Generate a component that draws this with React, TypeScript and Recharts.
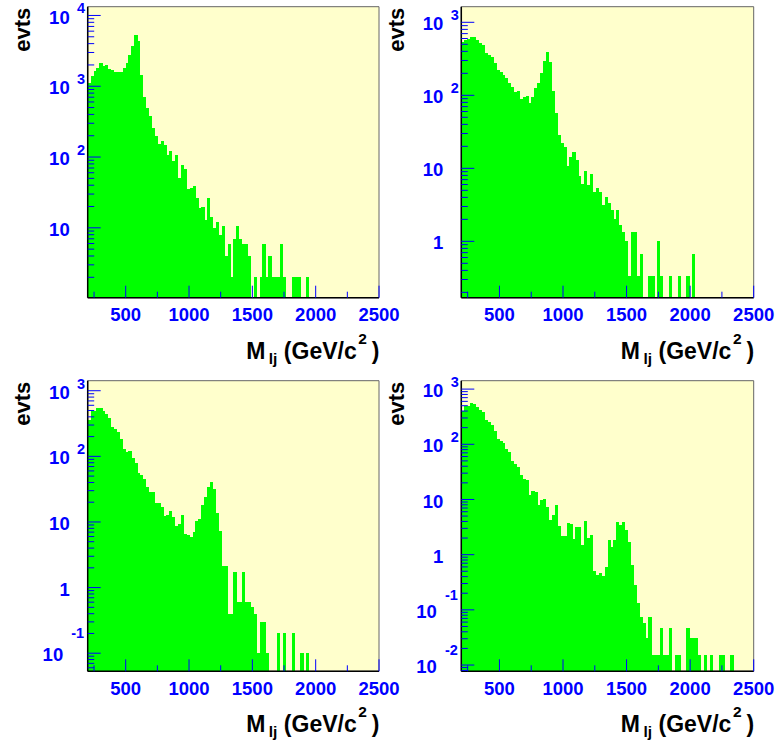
import React from "react";
import { BarChart, Bar, XAxis, YAxis, CartesianGrid, ReferenceArea } from "recharts";

// 100 bins of 23 GeV/c^2 starting at 200
const BIN_START = 200;
const BIN_WIDTH = 23;

const countsTopLeft = [
	1110, 1375, 1620, 1805, 2125, 1945, 1990, 1750, 1710, 1600,
	1565, 1580, 1785, 2125, 2720, 3725, 5270, 4340, 1450, 695,
	492, 384, 257, 200, 153, 166, 146, 108, 120, 87,
	108, 50, 76, 68, 35, 37, 39, 26, 19, 20,
	13, 26, 14, 10, 12, 8, 10.5, 4, 6, 2,
	7, 10.5, 7, 6, 6, 4, 0, 2, 0, 2,
	6, 2, 4, 2, 2, 2, 6, 2, 0, 0,
	2, 2, 2, 0, 0, 2,
];

const countsTopRight = [
	542, 572, 591, 630, 620, 572, 526, 489, 376, 356,
	331, 280, 222, 207, 190, 171, 149, 129, 112, 115,
	89, 96, 98, 78, 94, 125, 149, 200, 295, 388,
	289, 115, 57, 28.6, 22.4, 19.8, 10.9, 14.4, 16.6, 13,
	7.8, 6.1, 9.2, 5.9, 8.3, 4.8, 5.4, 4.7, 3.1, 4.1,
	3.33, 2.67, 2, 2.67, 1.67, 1.33, 1, 0.33, 1.33, 1.33,
	0.33, 0.67, 0, 0, 0.33, 0.33, 0, 1, 0.33, 0,
	0, 0.33, 0, 0, 0.33, 0, 0, 0.33, 0, 0.67,
];

const countsBottomLeft = [
	362, 486, 495, 546, 546, 486, 443, 384, 277, 261,
	233, 184, 131, 117, 122, 95, 79, 56, 51.5, 45.7,
	34, 28.7, 28.7, 19.5, 19.5, 16.9, 12.5, 12.9, 14.9, 11.8,
	8.8, 9.4, 12.7, 6.6, 6.4, 5.9, 7, 10.3, 11.2, 18,
	24, 33.8, 40.7, 31.8, 13.7, 7.2, 2.1, 2.1, 0.4, 0.4,
	1.7, 0.6, 0.6, 1.7, 0.6, 0.6, 0.5, 0.4, 0.1, 0.3,
	0.3, 0.1, 0, 0, 0, 0.2, 0, 0.2, 0, 0,
	0.2, 0, 0, 0.1, 0, 0.1,
];

const countsBottomRight = [
	396, 500, 500, 560, 537, 468, 424, 380, 279, 254,
	226, 176, 125, 113, 106, 83, 72.6, 49, 44, 38.3,
	28, 23.8, 22.8, 12.2, 14, 13.5, 7.85, 9.9, 10.3, 7.4,
	4.3, 5.2, 8.05, 3.27, 2.18, 2.18, 3.7, 3.6, 1.95, 3.2,
	3.15, 1.48, 4, 2, 2.24, 0.5, 0.43, 0.47, 0.41, 0.59,
	1.82, 1.36, 1.82, 3.86, 3.5, 3.9, 2.84, 1.7, 0.64, 0.28,
	0.133, 0.073, 0.058, 0.031, 0.073, 0.0154, 0.0154, 0.0154, 0.046, 0.0154,
	0.0154, 0.046, 0, 0.0154, 0.0154, 0, 0, 0.046, 0.031, 0.031,
	0.031, 0.0154, 0, 0.0154, 0, 0.0154, 0, 0, 0.0154, 0.0154,
	0, 0, 0.0154,
];

const xDomain: [number, number] = [200, 2500];
const xTicks = [250, 500, 750, 1000, 1250, 1500, 1750, 2000, 2250, 2500];
const xLabeled = [500, 1000, 1500, 2000, 2500];

const decadesTopLeft = [1, 10, 100, 1000, 10000];
const decadesTopRight = [0.1, 1, 10, 100, 1000];
const decadesBottomLeft = [0.01, 0.1, 1, 10, 100, 1000];
const decadesBottomRight = [0.001, 0.01, 0.1, 1, 10, 100, 1000];

const BLUE = "#0000ff";
const FONT = "'Liberation Sans', Arial, Helvetica, sans-serif";

function buildData(counts: number[]) {
	return counts
		.map((n, i) => ({ m: BIN_START + BIN_WIDTH * (i + 0.5), n }))
		.filter(d => d.n > 0);
}

function logTicks(decades: number[], domain: [number, number]) {
	const out: number[] = [];
	decades.forEach(d => {
		for (let k = 1; k <= 9; k++) {
			const v = k * d;
			if (v >= domain[0] && v <= domain[1]) out.push(v);
		}
	});
	return out;
}

function makeYTick(negRaise: number) {
	return (props: any) => {
		const { x, y, payload } = props;
		const v = payload.value;
		const e = Math.round(Math.log10(v));
		const decade = Math.abs(v / Math.pow(10, e) - 1) < 1e-6;
		const len = decade ? 13 : 6.5;
		let label = null;
		if (decade) {
			const base = { fill: BLUE, fontFamily: FONT, fontWeight: 700, textAnchor: "end" as const };
			if (e === 0 || e === 1) {
				label = <text x={x - 18} y={y + 8.1} fontSize={18.5} {...base}>{e === 0 ? "1" : "10"}</text>;
			} else if (e > 1) {
				label = (
					<g>
						<text x={x - 18} y={y + 8.1} fontSize={18.5} {...base}>10</text>
						<text x={x - 2.5} y={y - 2.2} fontSize={14.5} {...base}>{e}</text>
					</g>
				);
			} else {
				label = (
					<g>
						<text x={x - 24.5} y={y + 8.1} fontSize={18.5} {...base}>10</text>
						<text x={x - 3.5} y={y - negRaise + 5.2} fontSize={14.5} {...base}>{e}</text>
					</g>
				);
			}
		}
		return (
			<g>
				<line x1={x} x2={x + len} y1={y} y2={y} stroke={BLUE} strokeWidth={1} />
				{label}
			</g>
		);
	};
}

const renderXTick = (props: any) => {
	const { x, y, payload } = props;
	const major = xLabeled.includes(payload.value);
	return (
		<g>
			<line x1={x} x2={x} y1={y} y2={y - (major ? 12 : 6)} stroke={BLUE} strokeWidth={1} />
			{major && (
				<text x={x} y={y + 23.6} textAnchor="middle" fill={BLUE} fontSize={18.5} fontWeight={700} fontFamily={FONT}>
					{payload.value}
				</text>
			)}
		</g>
	);
};

const renderXTitle = (p: any) => {
	const vb = p.viewBox;
	const right = vb.x + vb.width + 0.5;
	const base = vb.y + 61;
	return (
		<text x={right} y={base} textAnchor="end" fontSize={23} fontWeight={700} fontFamily={FONT} fill="#000">
			<tspan>M</tspan>
			<tspan dx={3.5} dy={5} fontSize={15.5}>lj</tspan>
			<tspan dy={-5} fontSize={23}>{" (GeV/c"}</tspan>
			<tspan dx={1.5} dy={-15} fontSize={15.5}>2</tspan>
			<tspan dx={5} dy={15} fontSize={23}>)</tspan>
		</text>
	);
};

const renderYTitle = (p: any) => {
	const vb = p.viewBox;
	const bx = vb.x + vb.width - 57.7;
	const by = vb.y + 1;
	return (
		<text x={bx} y={by} transform={`rotate(-90 ${bx} ${by})`} textAnchor="end" fontSize={22} fontWeight={700} fontFamily={FONT} fill="#000">
			evts
		</text>
	);
};

// slightly widened, crisp rects so neighbouring bins merge into one solid area
const HistBar = (p: any) => {
	if (!(p.height > 0) || !(p.width > 0)) return null;
	return <rect x={p.x} y={p.y} width={p.width + 0.4} height={p.height} fill="#00ff00" shapeRendering="crispEdges" />;
};

type PanelProps = {
	counts: number[];
	decades: number[];
	yDomain: [number, number];
	left: number;
	top: number;
	width: number;
	height: number;
	margin: { top: number; right: number; bottom: number; left: number };
	negRaise: number;
};

function Panel({ counts, decades, yDomain, left, top, width, height, margin, negRaise }: PanelProps) {
	const data = buildData(counts);
	return (
		<div style={{ position: "absolute", left, top, width, height }}>
			<BarChart width={width} height={height} data={data} margin={margin} barGap={0} barCategoryGap={0}>
				<CartesianGrid fill="#ffffcc" horizontal={false} vertical={false} />
				<Bar dataKey="n" fill="#00ff00" barSize={2.8} isAnimationActive={false} shape={HistBar} />
				<ReferenceArea x1={xDomain[0]} x2={xDomain[1]} y1={yDomain[0]} y2={yDomain[1]} fill="none" stroke="#666" strokeWidth={1} />
				<XAxis
					dataKey="m"
					type="number"
					domain={xDomain}
					allowDataOverflow
					ticks={xTicks}
					interval={0}
					height={40}
					tickSize={0}
					tickMargin={0}
					tickLine={false}
					axisLine={{ stroke: "#000", strokeWidth: 1.5 }}
					tick={renderXTick}
					label={{ content: renderXTitle }}
				/>
				<YAxis
					type="number"
					scale="log"
					domain={yDomain}
					allowDataOverflow
					ticks={logTicks(decades, yDomain)}
					interval={0}
					width={70}
					tickSize={0}
					tickMargin={0}
					tickLine={false}
					axisLine={{ stroke: "#000", strokeWidth: 1.5 }}
					tick={makeYTick(negRaise)}
					label={{ content: renderYTitle }}
				/>
			</BarChart>
		</div>
	);
}

export default function App() {
	return (
		<div style={{ position: "absolute", left: 0, top: 0, width: 777, height: 749, background: "#fff" }}>
			<style>{`.recharts-surface{overflow:visible}`}</style>
			<Panel counts={countsTopLeft} decades={decadesTopLeft} yDomain={[1.03, 13300]}
				left={0} top={0} width={388} height={370}
				margin={{ top: 6.7, right: 9, bottom: 32.3, left: 17.7 }} negRaise={20} />
			<Panel counts={countsTopRight} decades={decadesTopRight} yDomain={[0.169, 1636]}
				left={388} top={0} width={389} height={370}
				margin={{ top: 6.7, right: 23.3, bottom: 32.3, left: 3.3 }} negRaise={20} />
			<Panel counts={countsBottomLeft} decades={decadesBottomLeft} yDomain={[0.053, 1422]}
				left={0} top={370} width={388} height={379}
				margin={{ top: 10.7, right: 9, bottom: 37.7, left: 17.7 }} negRaise={20} />
			<Panel counts={countsBottomRight} decades={decadesBottomRight} yDomain={[0.0077, 1420]}
				left={388} top={370} width={389} height={379}
				margin={{ top: 10.7, right: 23.3, bottom: 37.7, left: 3.3 }} negRaise={15} />
		</div>
	);
}
